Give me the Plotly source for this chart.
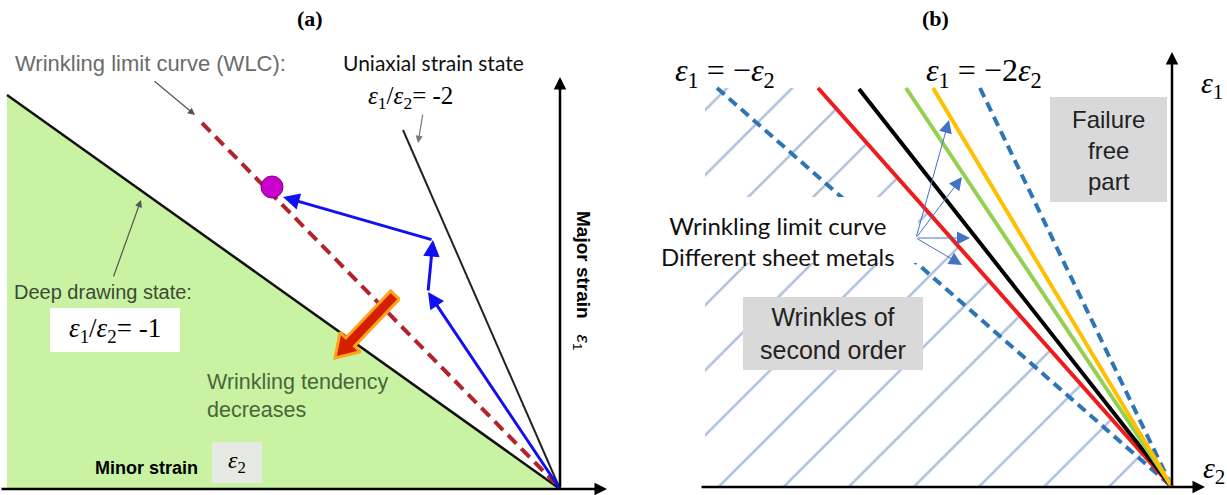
import math
import plotly.graph_objects as go

# ================= Panel (a): schematic in (minor strain e2, major strain e1), origin at the axis corner
a_deep_e2, a_deep_e1 = [-553, 0], [394, 0]          # deep drawing state  e1/e2 = -1
a_uniax_e2, a_uniax_e1 = [-157, 0], [359, 0]        # uniaxial strain state e1/e2 = -2
a_wlc_e2, a_wlc_e1 = [-358, -5], [366, 6]           # wrinkling limit curve
a_point_e2, a_point_e1 = [-288], [302]              # wrinkling onset point
a_path_e2, a_path_e1 = [0, -132, -127, -277], [0, 197, 249, 292]   # strain path
a_trend_e2, a_trend_e1 = [-165, -225], [194, 131]   # wrinkling tendency arrow (tail, tip)
a_xaxis_e2, a_yaxis_e1 = [-560, 47], [0, 412]

# ================= Panel (b)
b_lines_name = ["e1=-e2", "red", "black", "green", "yellow", "e1=-2e2"]
b_lines_top_e2 = [-455, -354, -313, -266, -239, -192]
b_lines_top_e1 = [399, 399, 398, 399, 399, 399]
b_lines_color = ["#2e75b6", "#ee1c1c", "#000000", "#92d050", "#ffc000", "#2e75b6"]
b_lines_dash = ["10px,6px", "solid", "solid", "solid", "solid", "10px,6px"]
b_hatch_e2 = [-467, -467, -354, 0]
b_hatch_e1 = [0, 399, 399, 0]
b_wlc_from = (-256, 249)
b_wlc_to_e2 = [-223, -210, -202, -210]
b_wlc_to_e1 = [367, 310, 249, 222]
b_xaxis_e2, b_yaxis_e1 = [-472, 33], [0, 435]

W, H = 1227, 495
split = 620 / W

fig = go.Figure()

def line(xs, ys, color, width, dash="solid", xa="x", ya="y"):
    fig.add_trace(go.Scatter(x=xs, y=ys, mode="lines", xaxis=xa, yaxis=ya,
                             line=dict(color=color, width=width, dash=dash),
                             hoverinfo="skip", showlegend=False))

def poly(xs, ys, fill, lc=None, lw=0, xa="x", ya="y", pattern=None):
    kw = dict(x=list(xs) + [xs[0]], y=list(ys) + [ys[0]], mode="lines", fill="toself",
              fillcolor=fill, xaxis=xa, yaxis=ya,
              line=dict(color=lc or fill, width=lw), hoverinfo="skip", showlegend=False)
    if pattern:
        kw["fillpattern"] = pattern
    fig.add_trace(go.Scatter(**kw))

# ---------- panel (a) ----------
poly([a_deep_e2[0], 0, a_deep_e2[0]], [a_deep_e1[0], 0, 0], "#c9f3a3")
line(a_deep_e2, a_deep_e1, "#111111", 2.5)
line(a_uniax_e2, a_uniax_e1, "#222222", 2)
line(a_wlc_e2, a_wlc_e1, "#b3232b", 4, "12px,7px")

# wrinkling-tendency arrow polygon
tx, ty = a_trend_e2[0], a_trend_e1[0]
hx, hy = a_trend_e2[1], a_trend_e1[1]
L = math.hypot(hx - tx, hy - ty)
ux, uy = (hx - tx) / L, (hy - ty) / L
nx, ny = -uy, ux
bx, by = hx - ux * 22, hy - uy * 22
sw, hw = 6, 14
px = [tx + nx * sw, bx + nx * sw, bx + nx * hw, hx, bx - nx * hw, bx - nx * sw, tx - nx * sw]
py = [ty + ny * sw, by + ny * sw, by + ny * hw, hy, by - ny * hw, by - ny * sw, ty - ny * sw]
poly(px, py, "#d41f00", "#ffa31a", 3)

fig.add_trace(go.Scatter(x=a_point_e2, y=a_point_e1, mode="markers", xaxis="x", yaxis="y",
                         marker=dict(size=22, color="#cc00cc", line=dict(color="#800080", width=1)),
                         hoverinfo="skip", showlegend=False))

# ---------- panel (b) ----------
poly(b_hatch_e2, b_hatch_e1, "rgba(0,0,0,0)", xa="x2", ya="y2",
     pattern=dict(shape="/", size=46, solidity=0.055, fgcolor="#5a80b8", bgcolor="rgba(0,0,0,0)"))
for i in [0, 5]:
    line([b_lines_top_e2[i], 0], [b_lines_top_e1[i], 0], b_lines_color[i], 4, b_lines_dash[i], "x2", "y2")
# white text area
poly([-517, -254, -254, -517], [224, 224, 290, 290], "#ffffff", xa="x2", ya="y2")
for i in [1, 2, 3, 4]:
    line([b_lines_top_e2[i], 0], [b_lines_top_e1[i], 0], b_lines_color[i], 4, b_lines_dash[i], "x2", "y2")
# grey boxes
poly([-122, -5, -5, -122], [285, 285, 390, 390], "#d9d9d9", xa="x2", ya="y2")
poly([-429, -249, -249, -429], [117, 117, 190, 190], "#d9d9d9", xa="x2", ya="y2")
# white box in (a)
poly([-510, -380, -380, -510], [137, 137, 181, 181], "#ffffff")
# eps2 box in (a)
poly([-348, -298, -298, -348], [6, 6, 47, 47], "#e6eae2")

ann = []

def arrow(x, y, ax, ay, color, width, head=2, size=1.0, xr="x", yr="y"):
    ann.append(dict(x=x, y=y, ax=ax, ay=ay, xref=xr, yref=yr, axref=xr, ayref=yr,
                    showarrow=True, arrowhead=head, arrowsize=size, arrowwidth=width,
                    arrowcolor=color, text=""))

def text(x, y, s, size, color="#000000", family="Liberation Sans", xr="x", yr="y", **kw):
    ann.append(dict(x=x, y=y, xref=xr, yref=yr, text=s, showarrow=False,
                    font=dict(size=size, color=color, family=family), **kw))

# axes arrows
arrow(a_xaxis_e2[1], 0, a_xaxis_e2[0], 0, "#000000", 2.5, 2, 1.0)
arrow(0, a_yaxis_e1[1], 0, 0, "#000000", 2.5, 2, 1.0)
arrow(b_xaxis_e2[1], 0, b_xaxis_e2[0], 0, "#000000", 2.5, 2, 1.0, "x2", "y2")
arrow(0, b_yaxis_e1[1], 0, 0, "#000000", 2.5, 2, 1.0, "x2", "y2")

# blue strain path
for i in range(3):
    arrow(a_path_e2[i + 1], a_path_e1[i + 1], a_path_e2[i], a_path_e1[i], "#1010f0", 3, 2, 1.1)

# grey pointer arrows in (a)
arrow(-365, 374, -407, 409, "#555555", 1.2, 2, 1.2)
arrow(-142, 346, -137, 376, "#777777", 1.2, 2, 1.2)
arrow(-419, 289, -447, 211, "#555555", 1.2, 2, 1.2)

# thin blue arrows in (b)
for ex, ey in zip(b_wlc_to_e2, b_wlc_to_e1):
    arrow(ex, ey, b_wlc_from[0], b_wlc_from[1], "#4472c4", 1, 2, 2.6, "x2", "y2")

EPS = "<i>ε</i>"
serif = "Liberation Serif"

# texts panel (a)
text(-250, 471, "<b>(a)</b>", 22, family=serif)
text(-410, 426, "Wrinkling limit curve (WLC):", 22, "#6b6b6b")
text(-127, 427, "Uniaxial strain state", 21, "#111111", "Lato")
text(-150, 392, EPS + "<sub>1</sub>/" + EPS + "<sub>2</sub>= -2", 25, family=serif)
text(22, 209, "<b>Major strain</b>   " + EPS + "<sub>1</sub>", 19, textangle=90)
text(-457, 197, "Deep drawing state:", 20, "#3b4a36")
text(-445, 159, EPS + "<sub>1</sub>/" + EPS + "<sub>2</sub>= -1", 27, family=serif)
text(-355, 93, "Wrinkling tendency<br>decreases", 21.5, "#48663a", xanchor="left", align="left")
text(-414, 21, "<b>Minor strain</b>", 18)
text(-323, 27, EPS + "<sub>2</sub>", 24, family=serif)

# texts panel (b)
text(-237, 469, "<b>(b)</b>", 22, family=serif, xr="x2", yr="y2")
text(-447, 415, EPS + "<sub>1</sub> = −" + EPS + "<sub>2</sub>", 32, family=serif, xr="x2", yr="y2")
text(-188, 415, EPS + "<sub>1</sub> = −2" + EPS + "<sub>2</sub>", 32, family=serif, xr="x2", yr="y2")
text(40, 402, EPS + "<sub>1</sub>", 30, family=serif, xr="x2", yr="y2")
text(42, 17, EPS + "<sub>2</sub>", 30, family=serif, xr="x2", yr="y2")
text(-64, 337, "Failure<br>free<br>part", 24, "#222222", xr="x2", yr="y2")
text(-339, 154, "Wrinkles of<br>second order", 25, "#222222", xr="x2", yr="y2")
text(-394, 246, "Wrinkling limit curve<br>Different sheet metals", 24, "#111111", "Lato", xr="x2", yr="y2")

ax_common = dict(visible=False, showgrid=False, zeroline=False, fixedrange=True)
fig.update_layout(
    width=W, height=H, margin=dict(l=0, r=0, t=0, b=0),
    paper_bgcolor="white", plot_bgcolor="white", showlegend=False,
    xaxis=dict(domain=[0, split], range=[-560, 60], **ax_common),
    yaxis=dict(domain=[0, 1], range=[-6, 489], **ax_common),
    xaxis2=dict(domain=[split, 1], range=[-552, 55], anchor="y2", **ax_common),
    yaxis2=dict(domain=[0, 1], range=[-8, 487], anchor="x2", **ax_common),
    annotations=ann,
)
fig.write_html("out.html", config={"displayModeBar": False},
               post_script="document.body.style.margin='0px';")
